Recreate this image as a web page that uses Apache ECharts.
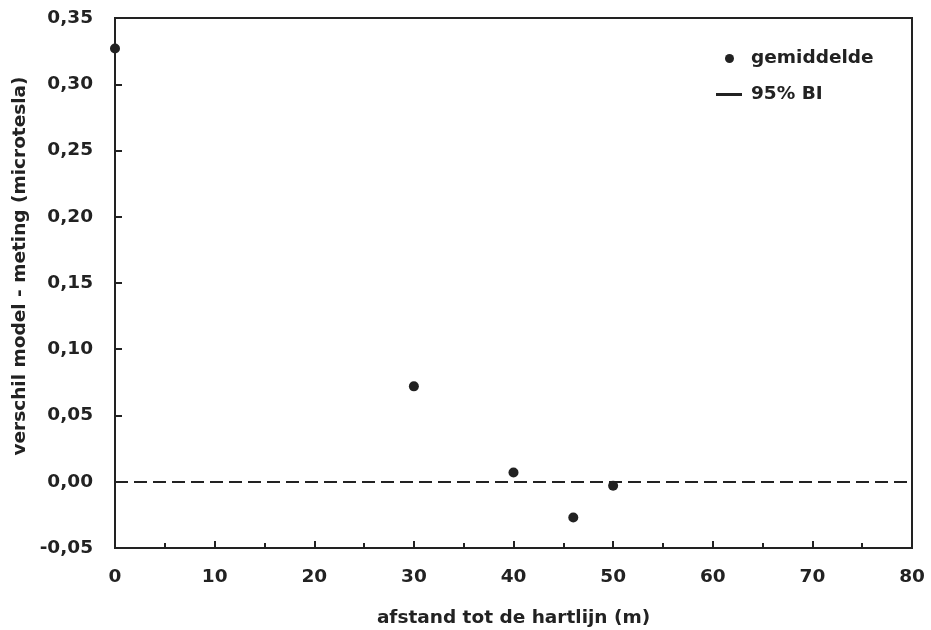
<!DOCTYPE html>
<html>
<head>
<meta charset="utf-8">
<script src="https://cdn.jsdelivr.net/npm/echarts@6/dist/echarts.min.js"></script>
<style>
html,body{margin:0;padding:0;background:#fff;}
#chart{width:931px;height:630px;}
</style>
</head>
<body>
<div id="chart"></div>
<script>
// Data
const distances = [0, 30, 40, 46, 50];               // afstand tot de hartlijn (m)
const meanDiff = [0.327, 0.072, 0.007, -0.027, -0.003]; // gemiddelde verschil (microtesla)
const biValues = [];                                 // 95% BI (no visible segments)
const zeroLine = [0];                                // reference line value
const xTicks = [0, 10, 20, 30, 40, 50, 60, 70, 80];
const yTicks = [-0.05, 0, 0.05, 0.10, 0.15, 0.20, 0.25, 0.30, 0.35];
const seriesNames = ['gemiddelde', '95% BI'];

const ink = '#222';
const font = 'DejaVu Sans';
const fs = 18.5;
const fw = 'bold';

const chart = echarts.init(document.getElementById('chart'), null, {renderer: 'canvas'});
chart.setOption({
  backgroundColor: '#fff',
  animation: false,
  textStyle: {fontFamily: font, color: ink},
  grid: {left: 115, right: 19, top: 18, bottom: 82, show: true, borderColor: ink, borderWidth: 2,
    backgroundColor: 'transparent', outerBoundsMode: 'none', containLabel: false},
  legend: [
    {
      data: [{name: seriesNames[0], icon: 'circle'}],
      left: 720, top: 44, itemWidth: 9, itemHeight: 9,
      textStyle: {fontFamily: font, fontSize: fs, fontWeight: fw, color: ink, padding: [0, 0, 0, 12]},
      itemStyle: {color: ink, opacity: 1},
      selectedMode: false
    },
    {
      data: [{name: seriesNames[1], icon: 'rect'}],
      left: 711, top: 80, itemWidth: 26, itemHeight: 3,
      textStyle: {fontFamily: font, fontSize: fs, fontWeight: fw, color: ink, padding: [0, 0, 0, 4]},
      itemStyle: {color: ink},
      selectedMode: false
    }
  ],
  xAxis: {
    type: 'value', min: xTicks[0], max: xTicks[xTicks.length - 1], interval: 10,
    name: 'afstand tot de hartlijn (m)', nameLocation: 'middle', nameGap: 61, nameMoveOverlap: false,
    nameTextStyle: {fontFamily: font, fontSize: fs, fontWeight: fw, color: ink},
    axisLine: {show: true, onZero: false, lineStyle: {color: ink, width: 2}},
    axisTick: {show: true, inside: true, length: 7, lineStyle: {color: ink, width: 2}},
    minorTick: {show: true, splitNumber: 2, length: 5, lineStyle: {color: ink, width: 2}},
    axisLabel: {fontFamily: font, fontSize: fs, fontWeight: fw, color: ink, margin: 20},
    splitLine: {show: false}
  },
  yAxis: {
    type: 'value', min: yTicks[0], max: yTicks[yTicks.length - 1], interval: 0.05,
    name: 'verschil model - meting (microtesla)', nameLocation: 'middle', nameGap: 85, nameMoveOverlap: false,
    nameTextStyle: {fontFamily: font, fontSize: fs, fontWeight: fw, color: ink, padding: [0, 0, 0, 34]},
    axisLine: {show: true, onZero: false, lineStyle: {color: ink, width: 2}},
    axisTick: {show: true, inside: true, length: 7, lineStyle: {color: ink, width: 2}},
    axisLabel: {fontFamily: font, fontSize: fs, fontWeight: fw, color: ink, margin: 22,
      formatter: v => (Math.round(v * 100) / 100).toFixed(2).replace('.', ',')},
    splitLine: {show: false}
  },
  series: [
    {
      name: seriesNames[0], type: 'scatter', clip: false,
      symbol: 'circle', symbolSize: 10,
      itemStyle: {color: ink, opacity: 1},
      data: distances.map((d, i) => [d, meanDiff[i]]),
      markLine: {
        silent: true, symbol: ['none', 'none'], label: {show: false},
        lineStyle: {color: ink, type: [13, 6], width: 2, opacity: 1},
        data: zeroLine.map(v => ({yAxis: v}))
      }
    },
    {
      name: seriesNames[1], type: 'line', showSymbol: false,
      lineStyle: {color: ink, width: 2}, itemStyle: {color: ink},
      data: biValues
    }
  ]
});
</script>
</body>
</html>
